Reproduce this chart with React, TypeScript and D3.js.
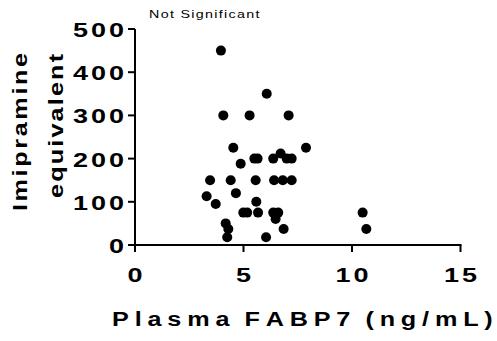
import React from "react";
import * as d3 from "d3";

// Plasma FABP7 (ng/mL) vs imipramine-equivalent dose
const fabp7: number[] = [
  3.96, 6.07, 4.07, 5.28, 7.08, 4.53, 7.88, 6.71, 5.5, 5.65, 6.37, 6.99, 7.22,
  4.87, 3.46, 4.41, 5.56, 6.41, 6.81, 7.22, 3.3, 4.65, 3.72, 5.59, 4.99, 5.17,
  5.67, 6.37, 6.6, 6.48, 4.18, 4.3, 4.25, 6.04, 6.85, 10.49, 10.66,
];
const imipramine: number[] = [
  450, 350, 300, 300, 300, 225, 225, 212, 200, 200, 200, 200, 200,
  188, 150, 150, 150, 150, 150, 150, 113, 120, 95, 100, 75, 75,
  75, 75, 75, 60, 50, 37, 18, 18, 37, 75, 37,
];
const xTicks: number[] = [0, 5, 10, 15];
const yTicks: number[] = [0, 100, 200, 300, 400, 500];

const W = 497;
const H = 341;
const FONT = "'Liberation Sans', Arial, sans-serif";

// Text in a horizontally widened face: drawn at the origin of a scaled group.
function WideText(props: {
  x: number;
  y: number;
  text: string;
  size: number;
  sx: number;
  ls: number;
  anchor?: "start" | "middle" | "end";
  rotate?: number;
  bold?: boolean;
  wordSpacing?: number;
}) {
  const { x, y, text, size, sx, ls, anchor = "start", rotate = 0, bold = true, wordSpacing = 0 } = props;
  const chars = text.split("");
  return (
    <g transform={`translate(${x},${y}) rotate(${rotate}) scale(${sx},1)`}>
      <text
        x={0}
        y={0}
        textAnchor={anchor}
        fontSize={size}
        fontWeight={bold ? "bold" : "normal"}
        fontFamily={FONT}
        fill="#000"
      >
        {chars.map((c, i) => (
          <tspan
            key={i}
            letterSpacing={i === chars.length - 1 ? 0 : c === " " ? ls + wordSpacing : ls}
          >
            {c}
          </tspan>
        ))}
      </text>
    </g>
  );
}

export default function App() {
  const x = d3.scaleLinear().domain([0, 15]).range([135, 460.5]);
  const y = d3.scaleLinear().domain([0, 500]).range([245, 29]);

  return (
    <svg
      width={W}
      height={H}
      style={{ position: "absolute", left: 0, top: 0, background: "#fff" }}
    >
      {/* note */}
      <WideText x={149} y={18} text="Not Significant" size={11} sx={1.3} ls={1} bold={false} />

      {/* y axis */}
      <line x1={x(0)} x2={x(0)} y1={y(0) + 1} y2={y(500)} stroke="#000" strokeWidth={2} />
      {yTicks.map((t) => (
        <g key={"y" + t}>
          <line x1={x(0) - 7} x2={x(0)} y1={y(t)} y2={y(t)} stroke="#000" strokeWidth={2} />
          <WideText x={124} y={y(t) + 8} text={String(t)} size={20} sx={1.35} ls={2.2} anchor="end" />
        </g>
      ))}

      {/* x axis */}
      <line x1={x(0) - 1} x2={x(15) + 1} y1={y(0)} y2={y(0)} stroke="#000" strokeWidth={2} />
      {xTicks.map((t) => (
        <g key={"x" + t}>
          <line x1={x(t)} x2={x(t)} y1={y(0)} y2={y(0) + 7} stroke="#000" strokeWidth={2} />
          <WideText x={x(t)} y={282} text={String(t)} size={20} sx={1.35} ls={2.2} anchor="middle" />
        </g>
      ))}

      {/* points */}
      {fabp7.map((v, i) => (
        <circle key={i} cx={x(v)} cy={y(imipramine[i])} r={5} fill="#000" />
      ))}

      {/* axis titles */}
      <WideText x={27} y={132} text="Imipramine" size={21} sx={1.2} ls={2.2} anchor="middle" rotate={-90} />
      <WideText x={63} y={126} text="equivalent" size={21} sx={1.2} ls={1.8} anchor="middle" rotate={-90} />
      <WideText
        x={112}
        y={326}
        text="Plasma FABP7 (ng/mL)"
        size={21}
        sx={1.2}
        ls={4.85}
        wordSpacing={-3}
      />
    </svg>
  );
}
